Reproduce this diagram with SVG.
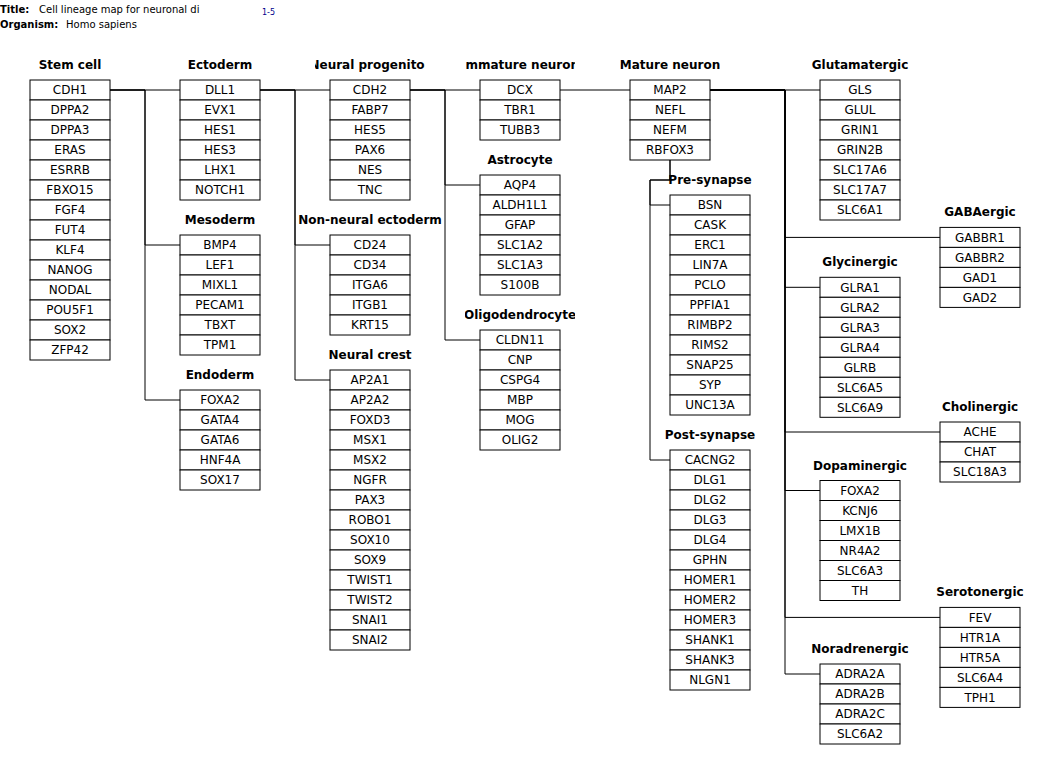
<svg xmlns="http://www.w3.org/2000/svg" width="1047" height="758" viewBox="0 0 1047 758">
<defs>
<style>
.c{fill:#fff;stroke:#000;stroke-width:1}
.t{font-family:"DejaVu Sans","Liberation Sans",sans-serif;font-size:12px;text-anchor:middle;fill:#000}
.h{font-family:"DejaVu Sans","Liberation Sans",sans-serif;font-size:12px;font-weight:bold;text-anchor:middle;fill:#000}
.k{fill:none;stroke:#000;stroke-width:1}
.ti{font-family:"DejaVu Sans","Liberation Sans",sans-serif;font-size:10px;fill:#000}
</style>
<clipPath id="clipA"><rect x="-15" y="-30" width="110" height="30"/></clipPath>
<clipPath id="clipT"><rect x="0" y="0" width="201" height="20"/></clipPath>
</defs>
<rect width="1047" height="758" fill="#fff"/>
<g id="title">
<text class="ti" x="0" y="13" font-weight="bold">Title:</text>
<text class="ti" x="39" y="13" clip-path="url(#clipT)">Cell lineage map for neuronal di</text>
<text class="ti" x="0" y="28" font-weight="bold">Organism:</text>
<text class="ti" x="66" y="28">Homo sapiens</text>
<text x="262" y="15" font-family="DejaVu Sans, sans-serif" font-size="8" fill="#00008b">1-5</text>
</g>
<g id="connectors">
<path class="k" d="M110,90H145V90H180"/>
<path class="k" d="M110,90H145V245H180"/>
<path class="k" d="M110,90H145V400H180"/>
<path class="k" d="M260,90H295V90H330"/>
<path class="k" d="M260,90H295V245H330"/>
<path class="k" d="M260,90H295V380H330"/>
<path class="k" d="M410,90H445V90H480"/>
<path class="k" d="M410,90H445V185H480"/>
<path class="k" d="M410,90H445V340H480"/>
<path class="k" d="M560,90H595V90H630"/>
<path class="k" d="M670,160V180H650V205H670"/>
<path class="k" d="M670,160V180H650V460H670"/>
<path class="k" d="M710,90H785V90H820"/>
<path class="k" d="M710,90H785V237.4H940"/>
<path class="k" d="M710,90H785V287.3H820"/>
<path class="k" d="M710,90H785V432H940"/>
<path class="k" d="M710,90H785V490.5H820"/>
<path class="k" d="M710,90H785V617.4H940"/>
<path class="k" d="M710,90H785V674H820"/>
</g>
<g id="stem-cell" transform="translate(30,80)">
<text class="h" x="40" y="-11">Stem cell</text>
<rect class="c" x="0" y="0" width="80" height="20"/><text class="t" x="40" y="14.3">CDH1</text>
<rect class="c" x="0" y="20" width="80" height="20"/><text class="t" x="40" y="34.3">DPPA2</text>
<rect class="c" x="0" y="40" width="80" height="20"/><text class="t" x="40" y="54.3">DPPA3</text>
<rect class="c" x="0" y="60" width="80" height="20"/><text class="t" x="40" y="74.3">ERAS</text>
<rect class="c" x="0" y="80" width="80" height="20"/><text class="t" x="40" y="94.3">ESRRB</text>
<rect class="c" x="0" y="100" width="80" height="20"/><text class="t" x="40" y="114.3">FBXO15</text>
<rect class="c" x="0" y="120" width="80" height="20"/><text class="t" x="40" y="134.3">FGF4</text>
<rect class="c" x="0" y="140" width="80" height="20"/><text class="t" x="40" y="154.3">FUT4</text>
<rect class="c" x="0" y="160" width="80" height="20"/><text class="t" x="40" y="174.3">KLF4</text>
<rect class="c" x="0" y="180" width="80" height="20"/><text class="t" x="40" y="194.3">NANOG</text>
<rect class="c" x="0" y="200" width="80" height="20"/><text class="t" x="40" y="214.3">NODAL</text>
<rect class="c" x="0" y="220" width="80" height="20"/><text class="t" x="40" y="234.3">POU5F1</text>
<rect class="c" x="0" y="240" width="80" height="20"/><text class="t" x="40" y="254.3">SOX2</text>
<rect class="c" x="0" y="260" width="80" height="20"/><text class="t" x="40" y="274.3">ZFP42</text>
</g>
<g id="ectoderm" transform="translate(180,80)">
<text class="h" x="40" y="-11">Ectoderm</text>
<rect class="c" x="0" y="0" width="80" height="20"/><text class="t" x="40" y="14.3">DLL1</text>
<rect class="c" x="0" y="20" width="80" height="20"/><text class="t" x="40" y="34.3">EVX1</text>
<rect class="c" x="0" y="40" width="80" height="20"/><text class="t" x="40" y="54.3">HES1</text>
<rect class="c" x="0" y="60" width="80" height="20"/><text class="t" x="40" y="74.3">HES3</text>
<rect class="c" x="0" y="80" width="80" height="20"/><text class="t" x="40" y="94.3">LHX1</text>
<rect class="c" x="0" y="100" width="80" height="20"/><text class="t" x="40" y="114.3">NOTCH1</text>
</g>
<g id="mesoderm" transform="translate(180,235)">
<text class="h" x="40" y="-11">Mesoderm</text>
<rect class="c" x="0" y="0" width="80" height="20"/><text class="t" x="40" y="14.3">BMP4</text>
<rect class="c" x="0" y="20" width="80" height="20"/><text class="t" x="40" y="34.3">LEF1</text>
<rect class="c" x="0" y="40" width="80" height="20"/><text class="t" x="40" y="54.3">MIXL1</text>
<rect class="c" x="0" y="60" width="80" height="20"/><text class="t" x="40" y="74.3">PECAM1</text>
<rect class="c" x="0" y="80" width="80" height="20"/><text class="t" x="40" y="94.3">TBXT</text>
<rect class="c" x="0" y="100" width="80" height="20"/><text class="t" x="40" y="114.3">TPM1</text>
</g>
<g id="endoderm" transform="translate(180,390)">
<text class="h" x="40" y="-11">Endoderm</text>
<rect class="c" x="0" y="0" width="80" height="20"/><text class="t" x="40" y="14.3">FOXA2</text>
<rect class="c" x="0" y="20" width="80" height="20"/><text class="t" x="40" y="34.3">GATA4</text>
<rect class="c" x="0" y="40" width="80" height="20"/><text class="t" x="40" y="54.3">GATA6</text>
<rect class="c" x="0" y="60" width="80" height="20"/><text class="t" x="40" y="74.3">HNF4A</text>
<rect class="c" x="0" y="80" width="80" height="20"/><text class="t" x="40" y="94.3">SOX17</text>
</g>
<g id="neural-progenitor" transform="translate(330,80)">
<text class="h" x="40" y="-11" clip-path="url(#clipA)">Neural progenitor</text>
<rect class="c" x="0" y="0" width="80" height="20"/><text class="t" x="40" y="14.3">CDH2</text>
<rect class="c" x="0" y="20" width="80" height="20"/><text class="t" x="40" y="34.3">FABP7</text>
<rect class="c" x="0" y="40" width="80" height="20"/><text class="t" x="40" y="54.3">HES5</text>
<rect class="c" x="0" y="60" width="80" height="20"/><text class="t" x="40" y="74.3">PAX6</text>
<rect class="c" x="0" y="80" width="80" height="20"/><text class="t" x="40" y="94.3">NES</text>
<rect class="c" x="0" y="100" width="80" height="20"/><text class="t" x="40" y="114.3">TNC</text>
</g>
<g id="non-neural-ectoderm" transform="translate(330,235)">
<text class="h" x="40" y="-11">Non-neural ectoderm</text>
<rect class="c" x="0" y="0" width="80" height="20"/><text class="t" x="40" y="14.3">CD24</text>
<rect class="c" x="0" y="20" width="80" height="20"/><text class="t" x="40" y="34.3">CD34</text>
<rect class="c" x="0" y="40" width="80" height="20"/><text class="t" x="40" y="54.3">ITGA6</text>
<rect class="c" x="0" y="60" width="80" height="20"/><text class="t" x="40" y="74.3">ITGB1</text>
<rect class="c" x="0" y="80" width="80" height="20"/><text class="t" x="40" y="94.3">KRT15</text>
</g>
<g id="neural-crest" transform="translate(330,370)">
<text class="h" x="40" y="-11">Neural crest</text>
<rect class="c" x="0" y="0" width="80" height="20"/><text class="t" x="40" y="14.3">AP2A1</text>
<rect class="c" x="0" y="20" width="80" height="20"/><text class="t" x="40" y="34.3">AP2A2</text>
<rect class="c" x="0" y="40" width="80" height="20"/><text class="t" x="40" y="54.3">FOXD3</text>
<rect class="c" x="0" y="60" width="80" height="20"/><text class="t" x="40" y="74.3">MSX1</text>
<rect class="c" x="0" y="80" width="80" height="20"/><text class="t" x="40" y="94.3">MSX2</text>
<rect class="c" x="0" y="100" width="80" height="20"/><text class="t" x="40" y="114.3">NGFR</text>
<rect class="c" x="0" y="120" width="80" height="20"/><text class="t" x="40" y="134.3">PAX3</text>
<rect class="c" x="0" y="140" width="80" height="20"/><text class="t" x="40" y="154.3">ROBO1</text>
<rect class="c" x="0" y="160" width="80" height="20"/><text class="t" x="40" y="174.3">SOX10</text>
<rect class="c" x="0" y="180" width="80" height="20"/><text class="t" x="40" y="194.3">SOX9</text>
<rect class="c" x="0" y="200" width="80" height="20"/><text class="t" x="40" y="214.3">TWIST1</text>
<rect class="c" x="0" y="220" width="80" height="20"/><text class="t" x="40" y="234.3">TWIST2</text>
<rect class="c" x="0" y="240" width="80" height="20"/><text class="t" x="40" y="254.3">SNAI1</text>
<rect class="c" x="0" y="260" width="80" height="20"/><text class="t" x="40" y="274.3">SNAI2</text>
</g>
<g id="immature-neuron" transform="translate(480,80)">
<text class="h" x="40" y="-11" clip-path="url(#clipA)">Immature neuron</text>
<rect class="c" x="0" y="0" width="80" height="20"/><text class="t" x="40" y="14.3">DCX</text>
<rect class="c" x="0" y="20" width="80" height="20"/><text class="t" x="40" y="34.3">TBR1</text>
<rect class="c" x="0" y="40" width="80" height="20"/><text class="t" x="40" y="54.3">TUBB3</text>
</g>
<g id="astrocyte" transform="translate(480,175)">
<text class="h" x="40" y="-11">Astrocyte</text>
<rect class="c" x="0" y="0" width="80" height="20"/><text class="t" x="40" y="14.3">AQP4</text>
<rect class="c" x="0" y="20" width="80" height="20"/><text class="t" x="40" y="34.3">ALDH1L1</text>
<rect class="c" x="0" y="40" width="80" height="20"/><text class="t" x="40" y="54.3">GFAP</text>
<rect class="c" x="0" y="60" width="80" height="20"/><text class="t" x="40" y="74.3">SLC1A2</text>
<rect class="c" x="0" y="80" width="80" height="20"/><text class="t" x="40" y="94.3">SLC1A3</text>
<rect class="c" x="0" y="100" width="80" height="20"/><text class="t" x="40" y="114.3">S100B</text>
</g>
<g id="oligodendrocyte" transform="translate(480,330)">
<text class="h" x="40" y="-11" clip-path="url(#clipA)">Oligodendrocyte</text>
<rect class="c" x="0" y="0" width="80" height="20"/><text class="t" x="40" y="14.3">CLDN11</text>
<rect class="c" x="0" y="20" width="80" height="20"/><text class="t" x="40" y="34.3">CNP</text>
<rect class="c" x="0" y="40" width="80" height="20"/><text class="t" x="40" y="54.3">CSPG4</text>
<rect class="c" x="0" y="60" width="80" height="20"/><text class="t" x="40" y="74.3">MBP</text>
<rect class="c" x="0" y="80" width="80" height="20"/><text class="t" x="40" y="94.3">MOG</text>
<rect class="c" x="0" y="100" width="80" height="20"/><text class="t" x="40" y="114.3">OLIG2</text>
</g>
<g id="mature-neuron" transform="translate(630,80)">
<text class="h" x="40" y="-11">Mature neuron</text>
<rect class="c" x="0" y="0" width="80" height="20"/><text class="t" x="40" y="14.3">MAP2</text>
<rect class="c" x="0" y="20" width="80" height="20"/><text class="t" x="40" y="34.3">NEFL</text>
<rect class="c" x="0" y="40" width="80" height="20"/><text class="t" x="40" y="54.3">NEFM</text>
<rect class="c" x="0" y="60" width="80" height="20"/><text class="t" x="40" y="74.3">RBFOX3</text>
</g>
<g id="pre-synapse" transform="translate(670,195)">
<text class="h" x="40" y="-11">Pre-synapse</text>
<rect class="c" x="0" y="0" width="80" height="20"/><text class="t" x="40" y="14.3">BSN</text>
<rect class="c" x="0" y="20" width="80" height="20"/><text class="t" x="40" y="34.3">CASK</text>
<rect class="c" x="0" y="40" width="80" height="20"/><text class="t" x="40" y="54.3">ERC1</text>
<rect class="c" x="0" y="60" width="80" height="20"/><text class="t" x="40" y="74.3">LIN7A</text>
<rect class="c" x="0" y="80" width="80" height="20"/><text class="t" x="40" y="94.3">PCLO</text>
<rect class="c" x="0" y="100" width="80" height="20"/><text class="t" x="40" y="114.3">PPFIA1</text>
<rect class="c" x="0" y="120" width="80" height="20"/><text class="t" x="40" y="134.3">RIMBP2</text>
<rect class="c" x="0" y="140" width="80" height="20"/><text class="t" x="40" y="154.3">RIMS2</text>
<rect class="c" x="0" y="160" width="80" height="20"/><text class="t" x="40" y="174.3">SNAP25</text>
<rect class="c" x="0" y="180" width="80" height="20"/><text class="t" x="40" y="194.3">SYP</text>
<rect class="c" x="0" y="200" width="80" height="20"/><text class="t" x="40" y="214.3">UNC13A</text>
</g>
<g id="post-synapse" transform="translate(670,450)">
<text class="h" x="40" y="-11">Post-synapse</text>
<rect class="c" x="0" y="0" width="80" height="20"/><text class="t" x="40" y="14.3">CACNG2</text>
<rect class="c" x="0" y="20" width="80" height="20"/><text class="t" x="40" y="34.3">DLG1</text>
<rect class="c" x="0" y="40" width="80" height="20"/><text class="t" x="40" y="54.3">DLG2</text>
<rect class="c" x="0" y="60" width="80" height="20"/><text class="t" x="40" y="74.3">DLG3</text>
<rect class="c" x="0" y="80" width="80" height="20"/><text class="t" x="40" y="94.3">DLG4</text>
<rect class="c" x="0" y="100" width="80" height="20"/><text class="t" x="40" y="114.3">GPHN</text>
<rect class="c" x="0" y="120" width="80" height="20"/><text class="t" x="40" y="134.3">HOMER1</text>
<rect class="c" x="0" y="140" width="80" height="20"/><text class="t" x="40" y="154.3">HOMER2</text>
<rect class="c" x="0" y="160" width="80" height="20"/><text class="t" x="40" y="174.3">HOMER3</text>
<rect class="c" x="0" y="180" width="80" height="20"/><text class="t" x="40" y="194.3">SHANK1</text>
<rect class="c" x="0" y="200" width="80" height="20"/><text class="t" x="40" y="214.3">SHANK3</text>
<rect class="c" x="0" y="220" width="80" height="20"/><text class="t" x="40" y="234.3">NLGN1</text>
</g>
<g id="glutamatergic" transform="translate(820,80)">
<text class="h" x="40" y="-11">Glutamatergic</text>
<rect class="c" x="0" y="0" width="80" height="20"/><text class="t" x="40" y="14.3">GLS</text>
<rect class="c" x="0" y="20" width="80" height="20"/><text class="t" x="40" y="34.3">GLUL</text>
<rect class="c" x="0" y="40" width="80" height="20"/><text class="t" x="40" y="54.3">GRIN1</text>
<rect class="c" x="0" y="60" width="80" height="20"/><text class="t" x="40" y="74.3">GRIN2B</text>
<rect class="c" x="0" y="80" width="80" height="20"/><text class="t" x="40" y="94.3">SLC17A6</text>
<rect class="c" x="0" y="100" width="80" height="20"/><text class="t" x="40" y="114.3">SLC17A7</text>
<rect class="c" x="0" y="120" width="80" height="20"/><text class="t" x="40" y="134.3">SLC6A1</text>
</g>
<g id="gabaergic" transform="translate(940,227.4)">
<text class="h" x="40" y="-11">GABAergic</text>
<rect class="c" x="0" y="0" width="80" height="20"/><text class="t" x="40" y="14.3">GABBR1</text>
<rect class="c" x="0" y="20" width="80" height="20"/><text class="t" x="40" y="34.3">GABBR2</text>
<rect class="c" x="0" y="40" width="80" height="20"/><text class="t" x="40" y="54.3">GAD1</text>
<rect class="c" x="0" y="60" width="80" height="20"/><text class="t" x="40" y="74.3">GAD2</text>
</g>
<g id="glycinergic" transform="translate(820,277.3)">
<text class="h" x="40" y="-11">Glycinergic</text>
<rect class="c" x="0" y="0" width="80" height="20"/><text class="t" x="40" y="14.3">GLRA1</text>
<rect class="c" x="0" y="20" width="80" height="20"/><text class="t" x="40" y="34.3">GLRA2</text>
<rect class="c" x="0" y="40" width="80" height="20"/><text class="t" x="40" y="54.3">GLRA3</text>
<rect class="c" x="0" y="60" width="80" height="20"/><text class="t" x="40" y="74.3">GLRA4</text>
<rect class="c" x="0" y="80" width="80" height="20"/><text class="t" x="40" y="94.3">GLRB</text>
<rect class="c" x="0" y="100" width="80" height="20"/><text class="t" x="40" y="114.3">SLC6A5</text>
<rect class="c" x="0" y="120" width="80" height="20"/><text class="t" x="40" y="134.3">SLC6A9</text>
</g>
<g id="cholinergic" transform="translate(940,422)">
<text class="h" x="40" y="-11">Cholinergic</text>
<rect class="c" x="0" y="0" width="80" height="20"/><text class="t" x="40" y="14.3">ACHE</text>
<rect class="c" x="0" y="20" width="80" height="20"/><text class="t" x="40" y="34.3">CHAT</text>
<rect class="c" x="0" y="40" width="80" height="20"/><text class="t" x="40" y="54.3">SLC18A3</text>
</g>
<g id="dopaminergic" transform="translate(820,480.5)">
<text class="h" x="40" y="-11">Dopaminergic</text>
<rect class="c" x="0" y="0" width="80" height="20"/><text class="t" x="40" y="14.3">FOXA2</text>
<rect class="c" x="0" y="20" width="80" height="20"/><text class="t" x="40" y="34.3">KCNJ6</text>
<rect class="c" x="0" y="40" width="80" height="20"/><text class="t" x="40" y="54.3">LMX1B</text>
<rect class="c" x="0" y="60" width="80" height="20"/><text class="t" x="40" y="74.3">NR4A2</text>
<rect class="c" x="0" y="80" width="80" height="20"/><text class="t" x="40" y="94.3">SLC6A3</text>
<rect class="c" x="0" y="100" width="80" height="20"/><text class="t" x="40" y="114.3">TH</text>
</g>
<g id="serotonergic" transform="translate(940,607.4)">
<text class="h" x="40" y="-11">Serotonergic</text>
<rect class="c" x="0" y="0" width="80" height="20"/><text class="t" x="40" y="14.3">FEV</text>
<rect class="c" x="0" y="20" width="80" height="20"/><text class="t" x="40" y="34.3">HTR1A</text>
<rect class="c" x="0" y="40" width="80" height="20"/><text class="t" x="40" y="54.3">HTR5A</text>
<rect class="c" x="0" y="60" width="80" height="20"/><text class="t" x="40" y="74.3">SLC6A4</text>
<rect class="c" x="0" y="80" width="80" height="20"/><text class="t" x="40" y="94.3">TPH1</text>
</g>
<g id="noradrenergic" transform="translate(820,664)">
<text class="h" x="40" y="-11">Noradrenergic</text>
<rect class="c" x="0" y="0" width="80" height="20"/><text class="t" x="40" y="14.3">ADRA2A</text>
<rect class="c" x="0" y="20" width="80" height="20"/><text class="t" x="40" y="34.3">ADRA2B</text>
<rect class="c" x="0" y="40" width="80" height="20"/><text class="t" x="40" y="54.3">ADRA2C</text>
<rect class="c" x="0" y="60" width="80" height="20"/><text class="t" x="40" y="74.3">SLC6A2</text>
</g>
</svg>
